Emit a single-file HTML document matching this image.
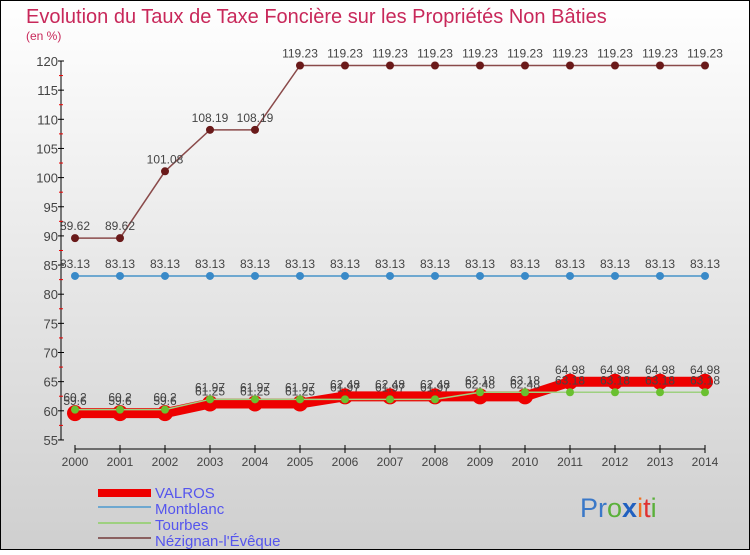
<!DOCTYPE html>
<html><head><meta charset="utf-8"><style>
body{margin:0;width:750px;height:550px;overflow:hidden;font-family:"Liberation Sans",sans-serif}
</style></head><body>
<svg id="chart" width="750" height="550" xmlns="http://www.w3.org/2000/svg" font-family="Liberation Sans, sans-serif">
<defs><linearGradient id="bg" x1="0" y1="0" x2="0" y2="1"><stop offset="0" stop-color="#ffffff"/><stop offset="1" stop-color="#cfcfcf"/></linearGradient></defs>
<rect x="0.5" y="0.5" width="749" height="549" fill="url(#bg)" stroke="#000"/>
<text x="26" y="23" font-size="20" fill="#c8285a">Evolution du Taux de Taxe Foncière sur les Propriétés Non Bâties</text>
<text x="26" y="40" font-size="12" fill="#c8285a">(en %)</text>
<g id="axes"></g><g id="series"></g>
<g>
<rect x="98" y="489" width="53" height="8" fill="#e00"/>
<text x="155" y="498" font-size="15" fill="#5555ee">VALROS</text>
<line x1="98" x2="151" y1="507" y2="507" stroke="#6ea8d0" stroke-width="2"/>
<text x="155" y="514" font-size="15" fill="#5555ee">Montblanc</text>
<line x1="98" x2="151" y1="523" y2="523" stroke="#9ed080" stroke-width="2"/>
<text x="155" y="530" font-size="15" fill="#5555ee">Tourbes</text>
<line x1="98" x2="151" y1="538" y2="538" stroke="#8a6060" stroke-width="2"/>
<text x="155" y="546" font-size="15" fill="#5555ee">Nézignan-l'Évêque</text>
</g>
<text x="580" y="517" font-size="27"><tspan fill="#3a78c8">Pr</tspan><tspan fill="#5ab03a">o</tspan><tspan fill="#2060c0" font-weight="bold">x</tspan><tspan fill="#f07020">i</tspan><tspan fill="#e03030">t</tspan><tspan fill="#5ab03a">i</tspan></text>
</svg>
<script>
const years=[2000,2001,2002,2003,2004,2005,2006,2007,2008,2009,2010,2011,2012,2013,2014];
const yTicks=[55,60,65,70,75,80,85,90,95,100,105,110,115,120];
const valros=[59.6,59.6,59.6,61.25,61.25,61.25,62.48,62.48,62.48,62.48,62.48,64.98,64.98,64.98,64.98];
const montblanc=[83.13,83.13,83.13,83.13,83.13,83.13,83.13,83.13,83.13,83.13,83.13,83.13,83.13,83.13,83.13];
const tourbes=[60.2,60.2,60.2,61.97,61.97,61.97,61.97,61.97,61.97,63.18,63.18,63.18,63.18,63.18,63.18];
const nezignan=[89.62,89.62,101.08,108.19,108.19,119.23,119.23,119.23,119.23,119.23,119.23,119.23,119.23,119.23,119.23];
const NS="http://www.w3.org/2000/svg";
const X=i=>75+i*45, Y=v=>61+(120-v)*5.83;
function mk(tag,attrs,parent,txt){const e=document.createElementNS(NS,tag);for(const k in attrs)e.setAttribute(k,attrs[k]);if(txt!==undefined)e.textContent=txt;parent.appendChild(e);return e;}
const ax=document.getElementById('axes'), sg=document.getElementById('series');
let e=mk('line',{x1:61,x2:61,y1:Y(120),y2:Y(55),stroke:'#000'},ax);


e=mk('line',{x1:X(0),x2:X(years.length-1),y1:449,y2:449,stroke:'#000'},ax);


yTicks.forEach(t=>{
 mk('line',{x1:58,x2:64,y1:Y(t),y2:Y(t),stroke:'#000'},ax);
 if(t<120)mk('line',{x1:59,x2:63,y1:Y(t+2.5),y2:Y(t+2.5),stroke:'#e00'},ax);
 const l=mk('text',{x:58,y:Y(t)+5,'font-size':13,'text-anchor':'end',fill:'#444'},ax,String(t));
 
 
});
years.forEach((yr,i)=>{
 mk('line',{x1:X(i),x2:X(i),y1:445,y2:453,stroke:'#000'},ax);
 const l=mk('text',{x:X(i),y:466,'font-size':12,'text-anchor':'middle',fill:'#444'},ax,String(yr));
 
 
});
function series(data,name,color,w,r,dot){
 const g=mk('g',{},sg);
 
 
 const p=mk('polyline',{points:data.map((v,i)=>X(i)+','+Y(v)).join(' '),fill:'none',stroke:color,'stroke-width':w},g);
 
 
 data.forEach((v,i)=>{
  const c=mk('circle',{cx:X(i),cy:Y(v),r:r,fill:dot},g);
  
  
  const t=mk('text',{x:X(i),y:Y(v)-8,'font-size':12,'text-anchor':'middle',fill:'#444'},g,String(v));
  
  
 });
}
series(nezignan,'nezignan','#8a4a4a',1.5,4,'#6a1a1a');
series(montblanc,'montblanc','#6ea8d0',2,4,'#3a8ac8');
series(valros,'valros','#ee0000',10,8,'#e00');
series(tourbes,'tourbes','#9ed080',1.5,4,'#6ac030');
</script>
</body></html>
